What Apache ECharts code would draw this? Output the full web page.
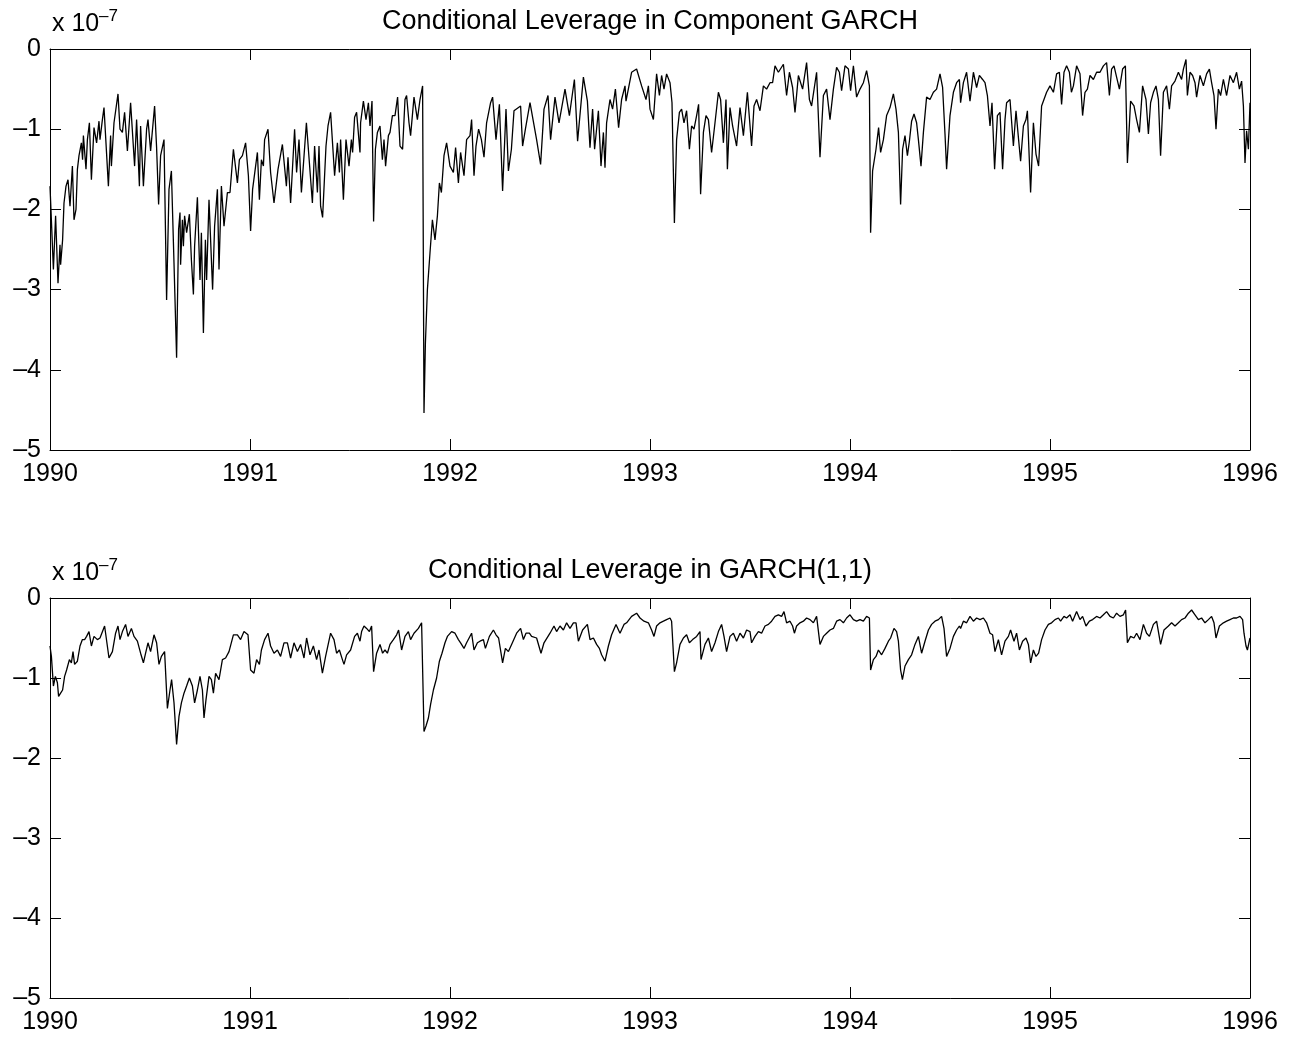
<!DOCTYPE html>
<html>
<head>
<meta charset="utf-8">
<script src="https://cdn.jsdelivr.net/npm/echarts@6/dist/echarts.min.js"></script>
<style>
html,body{margin:0;padding:0;background:#fff;}
#chart{width:1294px;height:1038px;}
</style>
</head>
<body>
<div id="chart"></div>
<script>
// Values are in units of 1e-7; x is decimal year
const titles = ['Conditional Leverage in Component GARCH', 'Conditional Leverage in GARCH(1,1)'];
const yearTicks = [1990, 1991, 1992, 1993, 1994, 1995, 1996];
const valueTicks = [0, -1, -2, -3, -4, -5];

const componentGarch = [
[1990.000,-1.71],[1990.017,-2.75],[1990.028,-2.08],[1990.040,-2.92],[1990.050,-2.44],[1990.053,-2.69],[1990.063,-2.38],[1990.070,-1.92],[1990.080,-1.71],[1990.090,-1.63],
[1990.100,-1.96],[1990.112,-1.46],[1990.120,-2.13],[1990.130,-2.00],[1990.137,-1.50],[1990.145,-1.33],[1990.157,-1.17],[1990.163,-1.38],[1990.167,-1.08],[1990.180,-1.50],
[1990.187,-1.13],[1990.197,-0.92],[1990.207,-1.63],[1990.220,-0.98],[1990.233,-1.17],[1990.245,-0.90],[1990.250,-1.13],[1990.262,-0.88],[1990.270,-0.73],[1990.292,-1.71],
[1990.303,-1.08],[1990.307,-1.46],[1990.320,-0.92],[1990.340,-0.56],[1990.350,-1.00],[1990.362,-1.04],[1990.373,-0.79],[1990.387,-1.27],[1990.403,-0.67],[1990.423,-1.46],
[1990.433,-0.88],[1990.447,-1.71],[1990.453,-0.96],[1990.467,-1.71],[1990.483,-1.00],[1990.490,-0.88],[1990.503,-1.27],[1990.523,-0.71],[1990.533,-1.23],[1990.543,-1.94],
[1990.553,-1.33],[1990.570,-1.13],[1990.583,-3.13],[1990.595,-1.75],[1990.607,-1.52],[1990.620,-2.67],[1990.633,-3.85],[1990.643,-2.25],[1990.650,-2.04],[1990.653,-2.69],
[1990.662,-2.13],[1990.667,-2.46],[1990.673,-2.08],[1990.683,-2.29],[1990.697,-2.06],[1990.707,-2.63],[1990.717,-3.06],[1990.723,-2.46],[1990.737,-1.85],[1990.750,-2.88],
[1990.757,-2.29],[1990.767,-3.54],[1990.777,-2.38],[1990.783,-2.88],[1990.795,-1.88],[1990.813,-3.00],[1990.823,-2.21],[1990.837,-1.75],[1990.845,-2.75],[1990.857,-1.71],
[1990.870,-2.21],[1990.887,-1.79],[1990.900,-1.79],[1990.917,-1.25],[1990.937,-1.67],[1990.947,-1.38],[1990.962,-1.33],[1990.978,-1.17],[1990.992,-1.58],[1991.003,-2.27],
[1991.013,-1.75],[1991.037,-1.29],[1991.047,-1.88],[1991.057,-1.38],[1991.067,-1.46],[1991.073,-1.13],[1991.090,-1.00],[1991.103,-1.54],[1991.120,-1.92],[1991.140,-1.50],
[1991.162,-1.19],[1991.182,-1.71],[1991.190,-1.35],[1991.203,-1.92],[1991.223,-1.00],[1991.233,-1.54],[1991.245,-1.13],[1991.257,-1.79],[1991.282,-0.92],[1991.312,-1.92],
[1991.323,-1.21],[1991.337,-1.79],[1991.345,-1.21],[1991.353,-1.96],[1991.363,-2.10],[1991.380,-1.21],[1991.390,-0.96],[1991.403,-0.79],[1991.423,-1.58],[1991.437,-1.17],
[1991.447,-1.54],[1991.453,-1.13],[1991.467,-1.88],[1991.480,-1.13],[1991.495,-1.46],[1991.507,-1.13],[1991.513,-1.29],[1991.523,-0.85],[1991.533,-0.79],[1991.550,-1.29],
[1991.553,-0.92],[1991.567,-0.65],[1991.580,-0.88],[1991.592,-0.67],[1991.600,-0.96],[1991.610,-0.65],[1991.618,-2.15],[1991.627,-1.25],[1991.637,-1.04],[1991.650,-0.96],
[1991.662,-1.38],[1991.670,-1.13],[1991.678,-1.46],[1991.692,-1.08],[1991.700,-1.04],[1991.712,-0.83],[1991.725,-0.83],[1991.738,-0.60],[1991.750,-1.21],[1991.763,-1.25],
[1991.775,-0.63],[1991.783,-0.58],[1991.795,-0.92],[1991.803,-1.08],[1991.820,-0.60],[1991.837,-0.88],[1991.850,-0.63],[1991.863,-0.46],[1991.870,-4.54],[1991.877,-3.67],
[1991.887,-3.00],[1991.900,-2.54],[1991.912,-2.13],[1991.925,-2.38],[1991.937,-2.08],[1991.947,-1.67],[1991.957,-1.79],[1991.970,-1.33],[1991.983,-1.17],[1992.000,-1.46],
[1992.017,-1.54],[1992.028,-1.23],[1992.042,-1.67],[1992.053,-1.29],[1992.070,-1.58],[1992.083,-1.13],[1992.100,-1.08],[1992.108,-0.88],[1992.120,-1.58],[1992.130,-1.21],
[1992.143,-1.00],[1992.157,-1.13],[1992.170,-1.35],[1992.183,-0.92],[1992.203,-0.67],[1992.213,-0.60],[1992.230,-1.13],[1992.247,-0.69],[1992.263,-1.77],[1992.280,-0.75],
[1992.292,-1.52],[1992.307,-1.25],[1992.320,-0.77],[1992.353,-0.71],[1992.363,-1.21],[1992.377,-1.00],[1992.400,-0.67],[1992.433,-1.13],[1992.453,-1.44],[1992.470,-0.75],
[1992.490,-0.58],[1992.503,-1.13],[1992.525,-0.60],[1992.545,-0.92],[1992.575,-0.50],[1992.597,-0.83],[1992.622,-0.38],[1992.638,-1.15],[1992.667,-0.35],[1992.687,-0.65],
[1992.700,-1.23],[1992.713,-0.75],[1992.723,-1.25],[1992.742,-0.77],[1992.755,-1.46],[1992.767,-1.04],[1992.775,-1.48],[1992.783,-0.92],[1992.800,-0.63],[1992.813,-0.75],
[1992.827,-0.50],[1992.843,-0.98],[1992.858,-0.63],[1992.875,-0.46],[1992.880,-0.65],[1992.908,-0.29],[1992.933,-0.25],[1992.958,-0.46],[1992.980,-0.63],[1992.992,-0.46],
[1993.000,-0.75],[1993.017,-0.88],[1993.033,-0.31],[1993.047,-0.58],[1993.058,-0.33],[1993.070,-0.50],[1993.083,-0.31],[1993.100,-0.42],[1993.110,-0.67],[1993.122,-2.17],
[1993.133,-1.13],[1993.147,-0.79],[1993.158,-0.75],[1993.170,-0.92],[1993.183,-0.77],[1993.197,-1.25],[1993.208,-0.96],[1993.220,-1.00],[1993.233,-0.83],[1993.243,-0.69],
[1993.253,-1.81],[1993.267,-1.04],[1993.280,-0.83],[1993.292,-0.88],[1993.308,-1.29],[1993.325,-0.92],[1993.342,-0.54],[1993.353,-0.63],[1993.367,-1.17],[1993.380,-0.63],
[1993.387,-1.50],[1993.400,-0.73],[1993.413,-0.96],[1993.433,-1.21],[1993.450,-0.73],[1993.467,-1.08],[1993.487,-0.54],[1993.508,-1.21],[1993.520,-0.71],[1993.533,-0.63],
[1993.550,-0.77],[1993.567,-0.46],[1993.583,-0.50],[1993.600,-0.42],[1993.613,-0.42],[1993.625,-0.21],[1993.642,-0.29],[1993.667,-0.19],[1993.683,-0.58],[1993.697,-0.29],
[1993.713,-0.48],[1993.725,-0.79],[1993.742,-0.33],[1993.763,-0.50],[1993.783,-0.17],[1993.797,-0.63],[1993.808,-0.71],[1993.833,-0.29],[1993.850,-1.35],[1993.867,-0.58],
[1993.883,-0.50],[1993.900,-0.88],[1993.917,-0.50],[1993.933,-0.23],[1993.947,-0.29],[1993.958,-0.52],[1993.975,-0.21],[1993.992,-0.25],[1994.003,-0.52],[1994.017,-0.21],
[1994.033,-0.60],[1994.050,-0.50],[1994.067,-0.42],[1994.083,-0.27],[1994.097,-0.46],[1994.103,-2.29],[1994.113,-1.52],[1994.130,-1.25],[1994.143,-0.98],[1994.153,-1.29],
[1994.167,-1.13],[1994.183,-0.83],[1994.200,-0.73],[1994.217,-0.56],[1994.230,-0.75],[1994.242,-1.04],[1994.253,-1.94],[1994.263,-1.25],[1994.275,-1.08],[1994.287,-1.33],
[1994.297,-1.15],[1994.308,-0.90],[1994.320,-0.81],[1994.333,-0.92],[1994.342,-1.13],[1994.355,-1.46],[1994.367,-1.04],[1994.383,-0.60],[1994.400,-0.63],[1994.417,-0.54],
[1994.433,-0.50],[1994.450,-0.31],[1994.463,-0.48],[1994.475,-1.06],[1994.483,-1.50],[1994.500,-0.83],[1994.517,-0.54],[1994.533,-0.42],[1994.547,-0.38],[1994.553,-0.67],
[1994.567,-0.42],[1994.583,-0.29],[1994.600,-0.65],[1994.617,-0.29],[1994.633,-0.48],[1994.647,-0.33],[1994.663,-0.38],[1994.675,-0.42],[1994.687,-0.58],[1994.700,-0.96],
[1994.710,-0.67],[1994.723,-1.50],[1994.737,-0.83],[1994.750,-0.79],[1994.763,-1.50],[1994.775,-0.88],[1994.783,-0.67],[1994.800,-0.63],[1994.817,-1.21],[1994.830,-0.77],
[1994.843,-1.13],[1994.853,-1.40],[1994.867,-0.96],[1994.880,-0.88],[1994.887,-0.77],[1994.903,-1.79],[1994.917,-0.92],[1994.930,-1.31],[1994.943,-1.46],[1994.958,-0.71],
[1994.983,-0.54],[1995.000,-0.46],[1995.017,-0.54],[1995.033,-0.31],[1995.047,-0.29],[1995.058,-0.69],[1995.070,-0.29],[1995.083,-0.21],[1995.097,-0.29],[1995.107,-0.54],
[1995.117,-0.46],[1995.133,-0.21],[1995.150,-0.31],[1995.163,-0.83],[1995.175,-0.54],[1995.187,-0.50],[1995.200,-0.33],[1995.217,-0.38],[1995.233,-0.29],[1995.250,-0.29],
[1995.267,-0.21],[1995.283,-0.17],[1995.297,-0.58],[1995.308,-0.25],[1995.320,-0.21],[1995.333,-0.35],[1995.347,-0.50],[1995.363,-0.25],[1995.377,-0.21],[1995.387,-1.42],
[1995.403,-0.65],[1995.420,-0.71],[1995.433,-0.88],[1995.447,-1.04],[1995.463,-0.46],[1995.480,-0.63],[1995.492,-1.06],[1995.503,-0.67],[1995.517,-0.54],[1995.530,-0.46],
[1995.542,-0.63],[1995.553,-1.33],[1995.567,-0.54],[1995.583,-0.46],[1995.597,-0.75],[1995.608,-0.46],[1995.625,-0.40],[1995.642,-0.29],[1995.658,-0.38],[1995.667,-0.25],
[1995.680,-0.13],[1995.687,-0.58],[1995.700,-0.29],[1995.713,-0.33],[1995.725,-0.42],[1995.733,-0.60],[1995.750,-0.33],[1995.767,-0.46],[1995.783,-0.31],[1995.797,-0.25],
[1995.808,-0.42],[1995.820,-0.58],[1995.830,-1.00],[1995.842,-0.50],[1995.853,-0.58],[1995.867,-0.38],[1995.883,-0.58],[1995.900,-0.33],[1995.917,-0.42],[1995.933,-0.29],
[1995.947,-0.50],[1995.958,-0.40],[1995.967,-0.71],[1995.975,-1.42],[1995.983,-1.02],[1995.992,-1.25],[1996.000,-0.67]
];

const garch11 = [
[1990.000,-0.60],[1990.007,-0.73],[1990.017,-1.10],[1990.027,-0.98],[1990.037,-1.06],[1990.043,-1.23],[1990.053,-1.19],[1990.063,-1.15],[1990.073,-0.98],[1990.083,-0.90],
[1990.097,-0.77],[1990.107,-0.81],[1990.115,-0.67],[1990.123,-0.83],[1990.137,-0.79],[1990.150,-0.60],[1990.162,-0.52],[1990.173,-0.52],[1990.183,-0.48],[1990.195,-0.42],
[1990.207,-0.60],[1990.220,-0.48],[1990.237,-0.52],[1990.250,-0.50],[1990.273,-0.35],[1990.295,-0.75],[1990.312,-0.67],[1990.328,-0.44],[1990.340,-0.35],[1990.350,-0.52],
[1990.362,-0.42],[1990.378,-0.33],[1990.390,-0.48],[1990.407,-0.38],[1990.420,-0.48],[1990.437,-0.54],[1990.453,-0.69],[1990.467,-0.81],[1990.478,-0.69],[1990.490,-0.56],
[1990.503,-0.67],[1990.520,-0.46],[1990.533,-0.56],[1990.545,-0.83],[1990.557,-0.73],[1990.573,-0.67],[1990.587,-1.38],[1990.600,-1.15],[1990.608,-1.02],[1990.620,-1.31],
[1990.633,-1.83],[1990.645,-1.48],[1990.657,-1.31],[1990.670,-1.19],[1990.683,-1.10],[1990.697,-1.00],[1990.712,-1.10],[1990.723,-1.31],[1990.737,-1.15],[1990.750,-0.98],
[1990.762,-1.15],[1990.770,-1.50],[1990.780,-1.27],[1990.795,-0.98],[1990.807,-1.02],[1990.817,-1.19],[1990.828,-0.94],[1990.845,-1.02],[1990.862,-0.77],[1990.878,-0.75],
[1990.895,-0.67],[1990.917,-0.46],[1990.937,-0.46],[1990.953,-0.52],[1990.970,-0.42],[1990.990,-0.46],[1991.003,-0.90],[1991.020,-0.94],[1991.033,-0.77],[1991.047,-0.83],
[1991.057,-0.65],[1991.073,-0.52],[1991.090,-0.44],[1991.103,-0.60],[1991.120,-0.69],[1991.137,-0.65],[1991.153,-0.73],[1991.170,-0.56],[1991.187,-0.56],[1991.203,-0.75],
[1991.220,-0.56],[1991.237,-0.67],[1991.253,-0.58],[1991.270,-0.75],[1991.283,-0.50],[1991.300,-0.71],[1991.317,-0.60],[1991.333,-0.77],[1991.345,-0.65],[1991.362,-0.94],
[1991.378,-0.73],[1991.403,-0.44],[1991.420,-0.52],[1991.433,-0.69],[1991.447,-0.65],[1991.462,-0.77],[1991.470,-0.83],[1991.483,-0.71],[1991.503,-0.65],[1991.523,-0.48],
[1991.537,-0.44],[1991.550,-0.54],[1991.558,-0.42],[1991.570,-0.35],[1991.583,-0.38],[1991.597,-0.42],[1991.608,-0.35],[1991.618,-0.92],[1991.633,-0.69],[1991.650,-0.58],
[1991.663,-0.69],[1991.675,-0.65],[1991.687,-0.69],[1991.700,-0.58],[1991.717,-0.52],[1991.733,-0.46],[1991.743,-0.40],[1991.758,-0.65],[1991.775,-0.48],[1991.792,-0.42],
[1991.803,-0.52],[1991.820,-0.44],[1991.842,-0.38],[1991.858,-0.31],[1991.867,-0.30],[1991.870,-1.67],[1991.880,-1.60],[1991.892,-1.50],[1991.903,-1.33],[1991.917,-1.15],
[1991.933,-1.00],[1991.947,-0.79],[1991.960,-0.69],[1991.975,-0.56],[1991.987,-0.48],[1992.008,-0.42],[1992.025,-0.44],[1992.042,-0.52],[1992.053,-0.56],[1992.070,-0.63],
[1992.083,-0.56],[1992.108,-0.44],[1992.120,-0.65],[1992.137,-0.56],[1992.150,-0.54],[1992.167,-0.52],[1992.177,-0.63],[1992.197,-0.48],[1992.217,-0.40],[1992.230,-0.46],
[1992.243,-0.50],[1992.263,-0.81],[1992.277,-0.63],[1992.292,-0.67],[1992.308,-0.58],[1992.333,-0.44],[1992.353,-0.38],[1992.367,-0.52],[1992.380,-0.44],[1992.397,-0.44],
[1992.408,-0.48],[1992.433,-0.50],[1992.455,-0.69],[1992.470,-0.56],[1992.500,-0.44],[1992.520,-0.35],[1992.533,-0.42],[1992.550,-0.35],[1992.567,-0.40],[1992.583,-0.31],
[1992.600,-0.38],[1992.617,-0.31],[1992.630,-0.31],[1992.642,-0.54],[1992.663,-0.40],[1992.687,-0.33],[1992.700,-0.52],[1992.717,-0.50],[1992.733,-0.58],[1992.747,-0.63],
[1992.758,-0.71],[1992.775,-0.79],[1992.792,-0.60],[1992.808,-0.46],[1992.830,-0.33],[1992.850,-0.44],[1992.870,-0.33],[1992.883,-0.31],[1992.908,-0.23],[1992.933,-0.19],
[1992.950,-0.25],[1992.970,-0.29],[1992.992,-0.31],[1993.008,-0.40],[1993.020,-0.48],[1993.033,-0.35],[1993.050,-0.31],[1993.067,-0.29],[1993.083,-0.27],[1993.100,-0.25],
[1993.108,-0.29],[1993.122,-0.92],[1993.133,-0.81],[1993.150,-0.58],[1993.167,-0.50],[1993.183,-0.46],[1993.197,-0.56],[1993.213,-0.52],[1993.233,-0.48],[1993.250,-0.42],
[1993.255,-0.77],[1993.275,-0.58],[1993.292,-0.50],[1993.308,-0.67],[1993.325,-0.56],[1993.342,-0.42],[1993.358,-0.33],[1993.370,-0.48],[1993.383,-0.67],[1993.400,-0.48],
[1993.417,-0.44],[1993.433,-0.54],[1993.450,-0.44],[1993.467,-0.50],[1993.483,-0.40],[1993.500,-0.42],[1993.508,-0.56],[1993.525,-0.48],[1993.542,-0.42],[1993.558,-0.44],
[1993.575,-0.35],[1993.592,-0.33],[1993.608,-0.29],[1993.625,-0.23],[1993.642,-0.21],[1993.658,-0.23],[1993.670,-0.17],[1993.683,-0.31],[1993.700,-0.29],[1993.713,-0.35],
[1993.722,-0.44],[1993.733,-0.35],[1993.750,-0.31],[1993.767,-0.29],[1993.783,-0.25],[1993.800,-0.27],[1993.817,-0.31],[1993.833,-0.23],[1993.850,-0.58],[1993.867,-0.48],
[1993.883,-0.44],[1993.900,-0.40],[1993.917,-0.38],[1993.933,-0.29],[1993.950,-0.27],[1993.967,-0.31],[1993.983,-0.25],[1994.000,-0.21],[1994.017,-0.27],[1994.033,-0.29],
[1994.050,-0.27],[1994.067,-0.29],[1994.083,-0.23],[1994.097,-0.25],[1994.103,-0.90],[1994.117,-0.77],[1994.130,-0.73],[1994.142,-0.65],[1994.158,-0.71],[1994.175,-0.63],
[1994.192,-0.54],[1994.203,-0.50],[1994.220,-0.38],[1994.233,-0.42],[1994.242,-0.54],[1994.253,-0.90],[1994.262,-1.02],[1994.275,-0.85],[1994.292,-0.77],[1994.308,-0.71],
[1994.325,-0.58],[1994.342,-0.48],[1994.358,-0.69],[1994.375,-0.54],[1994.392,-0.40],[1994.408,-0.33],[1994.425,-0.29],[1994.442,-0.27],[1994.458,-0.23],[1994.470,-0.38],
[1994.483,-0.73],[1994.500,-0.63],[1994.517,-0.48],[1994.533,-0.40],[1994.547,-0.35],[1994.553,-0.38],[1994.567,-0.29],[1994.583,-0.31],[1994.600,-0.23],[1994.617,-0.29],
[1994.633,-0.25],[1994.650,-0.27],[1994.667,-0.25],[1994.683,-0.31],[1994.700,-0.44],[1994.713,-0.46],[1994.725,-0.67],[1994.742,-0.52],[1994.758,-0.71],[1994.775,-0.54],
[1994.792,-0.48],[1994.803,-0.40],[1994.820,-0.54],[1994.833,-0.44],[1994.847,-0.65],[1994.863,-0.54],[1994.880,-0.50],[1994.892,-0.58],[1994.903,-0.81],[1994.917,-0.65],
[1994.930,-0.73],[1994.943,-0.69],[1994.958,-0.52],[1994.975,-0.40],[1994.992,-0.33],[1995.008,-0.31],[1995.025,-0.27],[1995.042,-0.25],[1995.053,-0.29],[1995.070,-0.23],
[1995.083,-0.25],[1995.100,-0.21],[1995.113,-0.29],[1995.133,-0.17],[1995.150,-0.27],[1995.163,-0.23],[1995.180,-0.35],[1995.197,-0.29],[1995.213,-0.27],[1995.233,-0.23],
[1995.250,-0.25],[1995.267,-0.21],[1995.283,-0.17],[1995.300,-0.23],[1995.317,-0.25],[1995.333,-0.19],[1995.350,-0.23],[1995.367,-0.21],[1995.378,-0.15],[1995.387,-0.56],
[1995.403,-0.48],[1995.420,-0.50],[1995.433,-0.44],[1995.450,-0.52],[1995.467,-0.33],[1995.483,-0.44],[1995.497,-0.48],[1995.517,-0.33],[1995.533,-0.29],[1995.553,-0.58],
[1995.570,-0.40],[1995.592,-0.35],[1995.608,-0.31],[1995.625,-0.35],[1995.642,-0.31],[1995.658,-0.27],[1995.675,-0.25],[1995.692,-0.19],[1995.708,-0.15],[1995.725,-0.21],
[1995.742,-0.27],[1995.758,-0.25],[1995.775,-0.31],[1995.792,-0.27],[1995.808,-0.23],[1995.820,-0.31],[1995.830,-0.50],[1995.847,-0.35],[1995.867,-0.31],[1995.883,-0.29],
[1995.900,-0.27],[1995.917,-0.25],[1995.933,-0.25],[1995.950,-0.23],[1995.963,-0.27],[1995.970,-0.44],[1995.980,-0.60],[1995.987,-0.65],[1996.000,-0.50]
];

const FONT = 'Liberation Sans, Arial, Helvetica, sans-serif';
const chart = echarts.init(document.getElementById('chart'), null, {renderer: 'canvas'});

const grids = [
  {left: 50, top: 49, width: 1200, height: 401},
  {left: 50, top: 598, width: 1200, height: 400}
];
const seriesData = [componentGarch, garch11];

const fmtY = v => (v === 0 ? '0' : '\u2013' + Math.abs(v));
const xAxes = [], yAxes = [], series = [], graphics = [];
grids.forEach((g, i) => {
  xAxes.push({
    gridIndex: i, type: 'value', position: 'bottom',
    min: yearTicks[0], max: yearTicks[yearTicks.length - 1], interval: 1,
    axisLine: {show: true, onZero: false, lineStyle: {color: '#000', width: 1}},
    axisTick: {show: true, inside: true, length: 11, lineStyle: {color: '#000'}},
    axisLabel: {show: true, color: '#000', fontSize: 25, fontFamily: FONT, margin: 12, formatter: v => String(v)},
    splitLine: {show: false}
  });
  xAxes.push({
    gridIndex: i, type: 'value', position: 'top',
    min: yearTicks[0], max: yearTicks[yearTicks.length - 1], interval: 1,
    axisLine: {show: true, onZero: false, lineStyle: {color: '#000', width: 1}},
    axisTick: {show: true, inside: true, length: 11, lineStyle: {color: '#000'}},
    axisLabel: {show: false}, splitLine: {show: false}
  });
  yAxes.push({
    gridIndex: i, type: 'value', position: 'left',
    min: valueTicks[valueTicks.length - 1], max: valueTicks[0], interval: 1,
    axisLine: {show: true, onZero: false, lineStyle: {color: '#000', width: 1}},
    axisTick: {show: true, inside: true, length: 11, lineStyle: {color: '#000'}},
    axisLabel: {show: true, color: '#000', fontSize: 25, fontFamily: FONT, margin: 9, formatter: fmtY},
    splitLine: {show: false}
  });
  yAxes.push({
    gridIndex: i, type: 'value', position: 'right',
    min: valueTicks[valueTicks.length - 1], max: valueTicks[0], interval: 1,
    axisLine: {show: true, onZero: false, lineStyle: {color: '#000', width: 1}},
    axisTick: {show: true, inside: true, length: 11, lineStyle: {color: '#000'}},
    axisLabel: {show: false}, splitLine: {show: false}
  });
  series.push({
    type: 'line', xAxisIndex: i * 2, yAxisIndex: i * 2,
    data: seriesData[i], showSymbol: false, symbol: 'none',
    lineStyle: {color: '#000', width: 1.3}, animation: false
  });
  graphics.push({
    type: 'text', x: 650, y: g.top - 27,
    style: {text: titles[i], font: '27px ' + FONT, fill: '#000', textAlign: 'center', textVerticalAlign: 'middle'}
  });
  graphics.push({
    type: 'text', x: 52, y: g.top - 12,
    style: {text: 'x 10', font: '25px ' + FONT, fill: '#000', textAlign: 'left', textBaseline: 'alphabetic', textVerticalAlign: 'bottom'}
  });
  graphics.push({
    type: 'text', x: 99, y: g.top - 24,
    style: {text: '\u20137', font: '17px ' + FONT, fill: '#000', textAlign: 'left', textVerticalAlign: 'bottom'}
  });
});

chart.setOption({
  animation: false,
  backgroundColor: '#fff',
  grid: grids,
  xAxis: xAxes,
  yAxis: yAxes,
  series: series,
  graphic: graphics
});
</script>
</body>
</html>
